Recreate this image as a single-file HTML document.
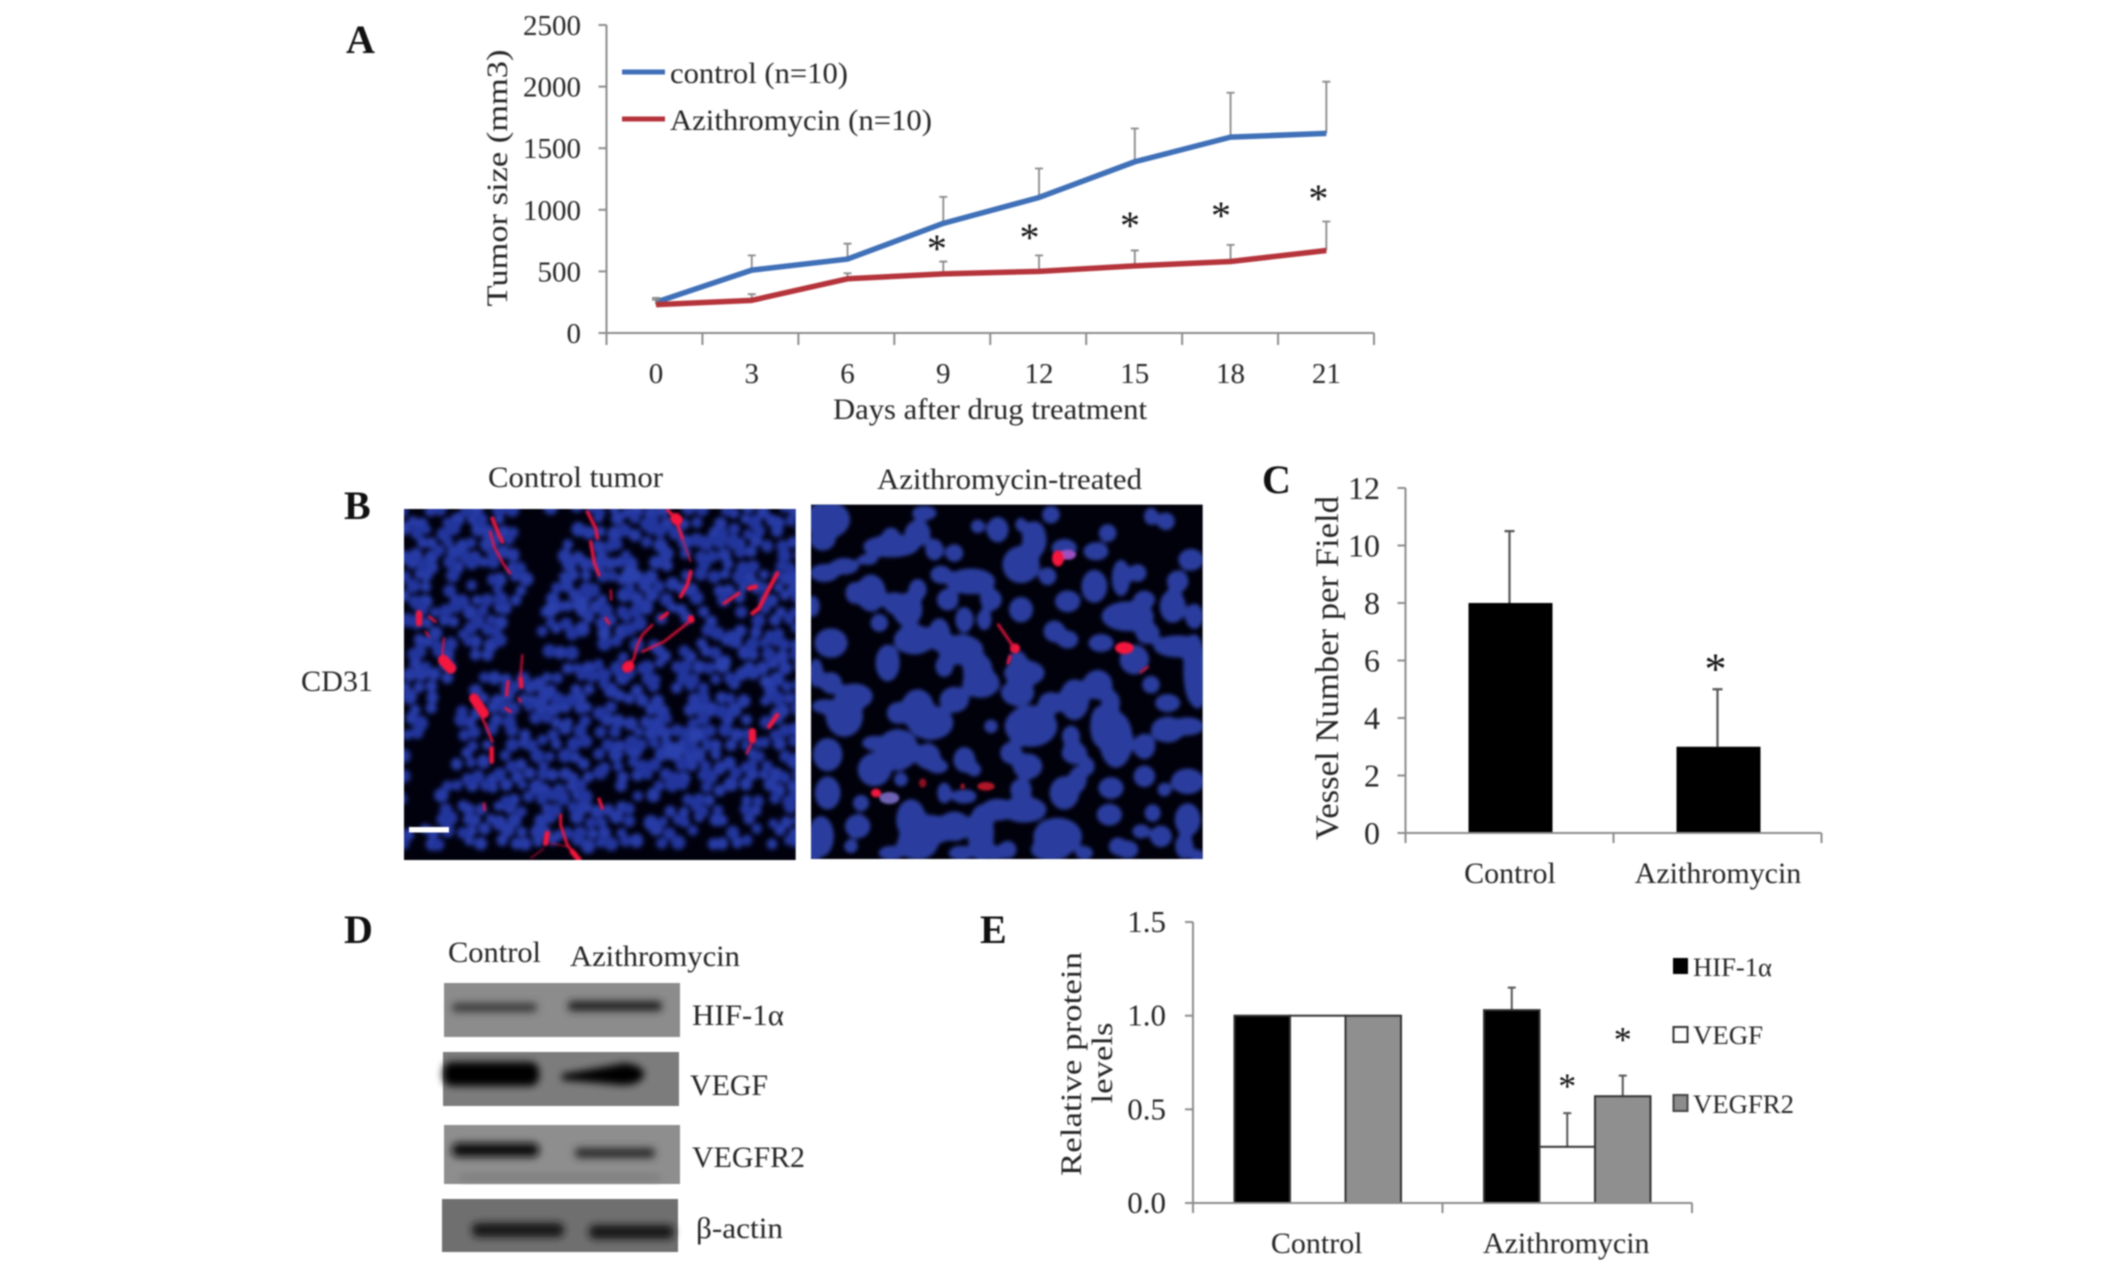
<!DOCTYPE html>
<html lang="en">
<head>
<meta charset="utf-8">
<title>Azithromycin tumor figure</title>
<style>
html,body{margin:0;padding:0;background:#fff;width:2126px;height:1277px;overflow:hidden}
svg{display:block;filter:blur(.7px)}
text{font-family:"Liberation Serif","Noto Serif CJK SC",serif;fill:#262626;font-size:30px}
.panel{font-weight:bold;font-size:40px;fill:#111}
</style>
</head>
<body>
<svg id="fig" xmlns="http://www.w3.org/2000/svg" width="2126" height="1277" viewBox="0 0 2126 1277">
<defs>
<filter id="b1" x="-5%" y="-5%" width="110%" height="110%"><feGaussianBlur stdDeviation="3.5"/></filter>
<filter id="bL" x="-5%" y="-5%" width="110%" height="110%"><feGaussianBlur stdDeviation="7"/></filter>
<filter id="b2" x="-5%" y="-5%" width="110%" height="110%"><feGaussianBlur stdDeviation="8"/><feComponentTransfer><feFuncA type="linear" slope="2.3" intercept="-0.5"/></feComponentTransfer><feGaussianBlur stdDeviation="5"/></filter>
<filter id="b3" x="-20%" y="-100%" width="140%" height="300%"><feGaussianBlur stdDeviation="4"/></filter>
<clipPath id="clipL"><rect x="0" y="12" width="1175" height="1053"/></clipPath>
<clipPath id="clipR"><rect x="0" y="5" width="1175" height="1063"/></clipPath>
</defs>

<g id="panelA">
<text class="panel" x="346" y="53">A</text>
<text transform="translate(507,178) rotate(-90)" text-anchor="middle" textLength="257" lengthAdjust="spacingAndGlyphs">Tumor size (mm3)</text>
<text x="990" y="419" text-anchor="middle" textLength="314" lengthAdjust="spacingAndGlyphs">Days after drug treatment</text>
<line x1="622" y1="72" x2="665" y2="72" stroke="#3f70b8" stroke-width="5"/>
<text x="670" y="83" textLength="178" lengthAdjust="spacingAndGlyphs">control (n=10)</text>
<line x1="622" y1="119" x2="665" y2="119" stroke="#b5343b" stroke-width="5"/>
<text x="670" y="130" textLength="262" lengthAdjust="spacingAndGlyphs">Azithromycin (n=10)</text>
</g>

<g id="panelB">
<text class="panel" x="344" y="519">B</text>
<text x="488" y="487" textLength="175" lengthAdjust="spacingAndGlyphs">Control tumor</text>
<text x="877" y="489" textLength="265" lengthAdjust="spacingAndGlyphs">Azithromycin-treated</text>
<text x="301" y="691" textLength="72" lengthAdjust="spacingAndGlyphs">CD31</text>
<g transform="translate(404,505) scale(.33333)" clip-path="url(#clipL)">
<rect x="0" y="0" width="1180" height="1080" fill="#01010e"/>
<g id="cellsL" filter="url(#bL)"></g>
<g id="vesselsL" filter="url(#b1)"></g>
</g>
<rect x="409" y="827" width="40" height="5.5" fill="#fff"/>
<g transform="translate(811,503) scale(.33333)" clip-path="url(#clipR)">
<rect x="0" y="0" width="1180" height="1080" fill="#01010c"/>
<g id="cellsR" filter="url(#b2)"></g>
<g id="vesselsR" filter="url(#b1)"></g>
</g>
</g>

<g id="panelC">
<text class="panel" x="1262" y="493">C</text>
<text transform="translate(1338,668) rotate(-90)" text-anchor="middle" font-size="33" style="font-size:33px" textLength="344" lengthAdjust="spacingAndGlyphs">Vessel Number per Field</text>
</g>

<g id="panelD">
<text class="panel" x="344" y="943">D</text>
<text x="448" y="962" textLength="93" lengthAdjust="spacingAndGlyphs">Control</text>
<text x="570" y="966" textLength="170" lengthAdjust="spacingAndGlyphs">Azithromycin</text>
<g>
<rect x="444" y="983" width="236" height="54" fill="#8c8c8c"/>
<rect x="452" y="1003" width="85" height="9" rx="4" fill="#3a3a3a" filter="url(#b3)"/>
<rect x="568" y="1001" width="94" height="10" rx="4" fill="#222" filter="url(#b3)"/>
</g>
<g>
<rect x="443" y="1052" width="236" height="54" fill="#7c7c7c"/>
<rect x="443" y="1062" width="96" height="24" rx="9" fill="#000" filter="url(#b3)"/>
<path d="M562 1074 Q600 1068 625 1063 Q645 1066 644 1075 Q640 1086 620 1085 Q590 1082 562 1080Z" fill="#060606" filter="url(#b3)"/>
</g>
<g>
<rect x="444" y="1125" width="236" height="59" fill="#8e8e8e"/>
<rect x="452" y="1143" width="87" height="14" rx="6" fill="#101010" filter="url(#b3)"/>
<rect x="575" y="1148" width="80" height="10" rx="4" fill="#2a2a2a" filter="url(#b3)"/>
<rect x="460" y="1175" width="200" height="5" fill="#777" filter="url(#b3)"/>
</g>
<g>
<rect x="442" y="1199" width="236" height="53" fill="#6f6f6f"/>
<rect x="472" y="1223" width="92" height="14" rx="6" fill="#141414" filter="url(#b3)"/>
<rect x="589" y="1225" width="85" height="14" rx="6" fill="#141414" filter="url(#b3)"/>
</g>
<text x="692" y="1025" textLength="92" lengthAdjust="spacingAndGlyphs">HIF-1α</text>
<text x="690" y="1095" textLength="78" lengthAdjust="spacingAndGlyphs">VEGF</text>
<text x="692" y="1167" textLength="113" lengthAdjust="spacingAndGlyphs">VEGFR2</text>
<text x="696" y="1238" textLength="87" lengthAdjust="spacingAndGlyphs">β-actin</text>
</g>

<g id="panelE">
<text class="panel" x="980" y="943">E</text>
<text transform="translate(1081,1064) rotate(-90)" text-anchor="middle" textLength="224" lengthAdjust="spacingAndGlyphs">Relative protein</text>
<text transform="translate(1112,1063) rotate(-90)" text-anchor="middle" textLength="81" lengthAdjust="spacingAndGlyphs">levels</text>
<rect x="1673" y="958" width="15" height="16" fill="#000"/>
<text x="1693" y="976" style="font-size:26px" textLength="79" lengthAdjust="spacingAndGlyphs">HIF-1α</text>
<rect x="1673.5" y="1027" width="14" height="15" fill="#fff" stroke="#333" stroke-width="2"/>
<text x="1693" y="1044" style="font-size:26px" textLength="70" lengthAdjust="spacingAndGlyphs">VEGF</text>
<rect x="1673.5" y="1095" width="14" height="16" fill="#8c8c8c" stroke="#444" stroke-width="2"/>
<text x="1693" y="1113" style="font-size:26px" textLength="101" lengthAdjust="spacingAndGlyphs">VEGFR2</text>
</g>

<script>
// Panel A data
const tumorDays = [0, 3, 6, 9, 12, 15, 18, 21];
const tumorTicks = [0, 500, 1000, 1500, 2000, 2500];
const controlMean = [250, 510, 600, 890, 1100, 1390, 1590, 1620];
const controlUpper = [285, 630, 725, 1105, 1335, 1660, 1950, 2040];
const azithroMean = [230, 265, 440, 480, 500, 545, 580, 670];
const azithroUpper = [270, 315, 485, 580, 630, 670, 715, 905];
const sigDays = [8.8, 11.7, 14.85, 17.7, 20.75];
const sigLevels = [730, 820, 917, 998, 1136];
// Panel C data
const vesselCategories = ['Control', 'Azithromycin'];
const vesselTicks = [0, 2, 4, 6, 8, 10, 12];
const vesselMean = [8, 3];
const vesselUpper = [10.5, 5];
const vesselSig = [null, 7];
// Panel E data
const proteinCategories = ['Control', 'Azithromycin'];
const proteinTicks = ['0.0', '0.5', '1.0', '1.5'];
const hifMean = [1, 1.03];
const hifUpper = [1, 1.15];
const vegfMean = [1, 0.3];
const vegfUpper = [1, 0.48];
const vegfr2Mean = [1, 0.57];
const vegfr2Upper = [1, 0.68];
const vegfSig = [null, 0.65];
const vegfr2Sig = [null, 0.9];

const NS = 'http://www.w3.org/2000/svg';
function mk(parent, tag, attrs, txt) {
  const e = document.createElementNS(NS, tag);
  for (const k in attrs) e.setAttribute(k, attrs[k]);
  if (txt !== undefined) e.textContent = txt;
  parent.appendChild(e);
  return e;
}
const AXIS = '#8c8c8c';
function star(parent, x, cy, size) {
  return mk(parent, 'text', {x: x, y: cy + 0.47 * size, 'text-anchor': 'middle', style: 'font-size:' + size + 'px;fill:#111'}, '*');
}

/* ---------- Panel A ---------- */
(function () {
  const g = document.getElementById('panelA');
  const ty = v => 333 - v * 308 / 2500;
  const dx = d => 656 + d * 31.92;
  const left = 606.5, right = 1374;
  const yAxis = mk(g, 'line', {x1: left, y1: ty(2500), x2: left, y2: 345, stroke: AXIS, 'stroke-width': 2});
  
  
  const xAxis = mk(g, 'line', {x1: left - 8, y1: ty(0), x2: right, y2: ty(0), stroke: AXIS, 'stroke-width': 2});
  
  
  tumorTicks.forEach(v => {
    mk(g, 'line', {x1: left - 8, y1: ty(v), x2: left, y2: ty(v), stroke: AXIS, 'stroke-width': 2});
    const t = mk(g, 'text', {x: 581, y: ty(v) + 10, 'text-anchor': 'end', style: 'font-size:29px'}, v);
    
    
  });
  const step = (right - left) / tumorDays.length;
  for (let i = 0; i <= tumorDays.length; i++) {
    mk(g, 'line', {x1: left + i * step, y1: ty(0), x2: left + i * step, y2: 345, stroke: AXIS, 'stroke-width': 2});
  }
  tumorDays.forEach(d => {
    const t = mk(g, 'text', {x: dx(d), y: 383, 'text-anchor': 'middle', style: 'font-size:29px'}, d);
    
    
  });
  function series(mean, upper, color, name) {
    upper.forEach((u, i) => {
      const x = dx(tumorDays[i]);
      const bar = mk(g, 'path', {d: 'M' + x + ' ' + ty(mean[i]) + 'V' + ty(u) + 'M' + (x - 4) + ' ' + ty(u) + 'H' + (x + 4), stroke: '#8a8a8a', 'stroke-width': 1.8, fill: 'none'});
      
      
    });
    const pts = mean.map((m, i) => dx(tumorDays[i]) + ',' + ty(m)).join(' ');
    const line = mk(g, 'polyline', {points: pts, fill: 'none', stroke: color, 'stroke-width': 5.5, 'stroke-linejoin': 'round'});
    
    
  }
  series(controlMean, controlUpper, '#3f70b8', 'control');
  series(azithroMean, azithroUpper, '#b5343b', 'azithromycin');
  sigDays.forEach((d, i) => {
    const s = star(g, dx(d), ty(sigLevels[i]), 40);
    
    
  });
})();

/* ---------- Panel C ---------- */
(function () {
  const g = document.getElementById('panelC');
  const vy = v => 833 - v * 28.75;
  const left = 1405.5, step = 208;
  const cx = i => left + (i + 0.5) * step;
  const w = 84;
  vesselMean.forEach((m, i) => {
    const err = mk(g, 'path', {d: 'M' + cx(i) + ' ' + vy(m) + 'V' + vy(vesselUpper[i]) + 'M' + (cx(i) - 5) + ' ' + vy(vesselUpper[i]) + 'H' + (cx(i) + 5), stroke: '#555', 'stroke-width': 2.2, fill: 'none'});
    
    
    const b = mk(g, 'rect', {x: cx(i) - w / 2 + 1, y: vy(m), width: w, height: vy(0) - vy(m), fill: '#000'});
    
    
    const t = mk(g, 'text', {x: cx(i) + .5, y: 883, 'text-anchor': 'middle'}, vesselCategories[i]);
    
    
    if (vesselSig[i] !== null) {
      const s = star(g, cx(i) - 2, vy(vesselSig[i]) + 31, 44);
      
      
    }
  });
  const yAxis = mk(g, 'line', {x1: left, y1: vy(12), x2: left, y2: 843, stroke: AXIS, 'stroke-width': 2});
  
  
  const xAxis = mk(g, 'line', {x1: left - 8, y1: vy(0), x2: left + 2 * step, y2: vy(0), stroke: AXIS, 'stroke-width': 2});
  
  
  for (let i = 1; i <= vesselCategories.length; i++) {
    mk(g, 'line', {x1: left + i * step, y1: vy(0), x2: left + i * step, y2: 843, stroke: AXIS, 'stroke-width': 2});
  }
  vesselTicks.forEach(v => {
    mk(g, 'line', {x1: left - 8, y1: vy(v), x2: left, y2: vy(v), stroke: AXIS, 'stroke-width': 2});
    const t = mk(g, 'text', {x: 1380, y: vy(v) + 11, 'text-anchor': 'end', style: 'font-size:32px'}, v);
    
    
  });
})();

/* ---------- Panel E ---------- */
(function () {
  const g = document.getElementById('panelE');
  const py = v => 1203 - v * 187.3;
  const left = 1193, step = 249.5, w = 55.5;
  const cx = i => left + (i + 0.5) * step;
  const groups = [
    {mean: hifMean, upper: hifUpper, fill: '#000', name: 'hif-1a', sig: null},
    {mean: vegfMean, upper: vegfUpper, fill: '#fff', name: 'vegf', sig: vegfSig},
    {mean: vegfr2Mean, upper: vegfr2Upper, fill: '#8f8f8f', name: 'vegfr2', sig: vegfr2Sig}
  ];
  proteinCategories.forEach((c, i) => {
    groups.forEach((s, k) => {
      const x = cx(i) + (k - 1) * w;
      if (s.upper[i] > s.mean[i]) {
        const err = mk(g, 'path', {d: 'M' + x + ' ' + py(s.mean[i]) + 'V' + py(s.upper[i]) + 'M' + (x - 4) + ' ' + py(s.upper[i]) + 'H' + (x + 4), stroke: '#555', 'stroke-width': 2, fill: 'none'});
        
        
      }
      const b = mk(g, 'rect', {x: x - w / 2, y: py(s.mean[i]), width: w, height: py(0) - py(s.mean[i]), fill: s.fill, stroke: '#333', 'stroke-width': 2});
      
      
      if (s.sig && s.sig[i] !== null) {
        const st = star(g, x, py(s.sig[i]), 36);
        
        
      }
    });
    const t = mk(g, 'text', {x: cx(i) - 1, y: 1253, 'text-anchor': 'middle'}, c);
    
    
  });
  const yAxis = mk(g, 'line', {x1: left, y1: py(1.5), x2: left, y2: 1213, stroke: AXIS, 'stroke-width': 2});
  
  
  const xAxis = mk(g, 'line', {x1: left - 8, y1: py(0), x2: 1692, y2: py(0), stroke: AXIS, 'stroke-width': 2});
  
  
  for (let i = 1; i <= proteinCategories.length; i++) {
    mk(g, 'line', {x1: left + i * step, y1: py(0), x2: left + i * step, y2: 1213, stroke: AXIS, 'stroke-width': 2});
  }
  proteinTicks.forEach(v => {
    mk(g, 'line', {x1: left - 8, y1: py(+v), x2: left, y2: py(+v), stroke: AXIS, 'stroke-width': 2});
    const t = mk(g, 'text', {x: 1166, y: py(+v) + 10, 'text-anchor': 'end', style: 'font-size:31px'}, v);
    
    
  });
})();

/* ---------- Panel B: decorative microscopy texture (not chart data) ---------- */
(function () {
  function hash(i, j, k) {
    let h = Math.imul(i + 11, 73856093) ^ Math.imul(j + 7, 19349663) ^ Math.imul(k + 3, 83492791);
    h = Math.imul(h ^ (h >>> 13), 1274126177);
    return ((h ^ (h >>> 16)) >>> 0) % 1000 / 1000;
  }
  function inside(poly, x, y) {
    let c = false;
    for (let i = 0, j = poly.length - 1; i < poly.length; j = i++) {
      const a = poly[i], b = poly[j];
      if ((a[1] > y) !== (b[1] > y) && x < (b[0] - a[0]) * (y - a[1]) / (b[1] - a[1]) + a[0]) c = !c;
    }
    return c;
  }
  const black = [[[345,10],[540,10],[470,130],[480,220],[410,290],[400,400],[440,460],[400,540],[300,480],[225,490],[190,570],[150,630],[170,710],[110,820],[100,900],[120,960],[0,960],[0,770],[45,750],[55,650],[130,570],[140,520],[180,470],[320,450],[330,300],[370,230],[340,100]]];
  const sparse = [
    [[440,390],[600,420],[690,430],[680,480],[540,460]],
    [[740,300],[860,250],[870,340],[720,430]],
    [[900,240],[950,260],[950,330],[900,340]],
    [[590,230],[650,240],[640,330],[590,300]],
    [[1000,520],[1070,530],[1060,590],[990,570]]
  ];
  function circle(x, y, r) {
    return 'M' + (x - r).toFixed(1) + ' ' + y.toFixed(1) + 'a' + r.toFixed(1) + ' ' + r.toFixed(1) + ' 0 1 0 ' + (2 * r).toFixed(1) + ' 0a' + r.toFixed(1) + ' ' + r.toFixed(1) + ' 0 1 0 ' + (-2 * r).toFixed(1) + ' 0Z';
  }
  let d1 = '', d2 = '';
  const sp = 37;
  for (let j = 0; j < 31; j++) {
    for (let i = 0; i < 34; i++) {
      const x = i * sp + (j % 2) * sp / 2 + (hash(i, j, 1) - .5) * 22;
      const y = 14 + j * sp * .9 + (hash(i, j, 2) - .5) * 22;
      if (black.some(p => inside(p, x, y))) continue;
      const sparseHit = sparse.some(p => inside(p, x, y));
      const keep = hash(i, j, 3);
      if (keep < (sparseHit ? .82 : .2)) continue;
      const r = 15 + hash(i, j, 4) * 7;
      if (hash(i, j, 5) > .45) d1 += circle(x, y, r); else d2 += circle(x, y, r);
    }
  }
  const cl = document.getElementById('cellsL');
  mk(cl, 'path', {d: d1, fill: '#283ba6'});
  mk(cl, 'path', {d: d2, fill: '#22349c'});
  mk(cl, 'path', {d: circle(530,300,24) + circle(440,315,22) + circle(600,385,20) + circle(680,210,28) + circle(810,740,28) + circle(875,690,22) + circle(955,480,24) + circle(1085,530,18), fill: '#2a40ac'});

  const blobs = [[50,50,55,45],[35,110,30,25],[240,130,70,25],[320,90,30,30],[340,30,30,15],[240,100,20,20],[170,170,25,10],[100,190,35,18],[40,210,35,20],[180,270,35,45],[250,300,25,25],[290,320,35,40],[130,270,20,25],[320,260,20,25],[5,310,15,25],[205,360,20,20],[390,215,25,20],[480,235,60,30],[410,290,25,25],[540,290,25,25],[520,350,15,25],[460,350,20,30],[630,185,45,45],[560,80,25,30],[670,110,28,45],[500,70,15,15],[370,140,20,25],[430,150,20,20],[720,35,20,20],[630,65,12,15],[710,220,20,20],[630,320,28,30],[770,295,30,25],[850,250,30,40],[855,145,30,20],[890,90,20,20],[760,135,30,20],[980,210,20,20],[930,225,20,45],[1000,290,25,20],[1065,55,20,20],[1020,40,15,20],[1140,170,30,25],[1100,235,25,25],[1085,310,30,40],[1150,340,20,30],[950,340,65,35],[1010,390,28,25],[730,385,25,25],[770,410,25,20],[870,420,30,20],[970,470,35,35],[1100,430,60,25],[1150,500,25,90],[1020,545,20,20],[1070,600,30,20],[1160,580,15,30],[310,410,50,35],[385,395,25,40],[450,440,55,35],[500,500,35,40],[510,540,45,35],[400,490,20,25],[230,480,28,45],[60,420,40,35],[60,540,25,25],[15,510,15,35],[130,580,45,30],[100,640,45,50],[40,610,30,15],[320,620,40,50],[360,660,55,40],[260,630,25,25],[430,590,35,30],[620,470,20,20],[640,510,50,30],[620,570,40,30],[540,670,15,15],[660,670,65,50],[720,600,30,25],[790,590,35,50],[860,545,35,35],[900,600,20,30],[915,710,40,70],[865,670,20,50],[1070,680,40,30],[1130,670,40,20],[1000,730,25,30],[780,700,20,25],[790,750,30,25],[650,790,35,30],[600,750,25,25],[50,755,35,40],[190,720,30,15],[260,740,50,50],[190,800,40,40],[350,760,30,30],[380,790,25,15],[460,770,25,30],[490,800,15,15],[270,830,15,15],[50,870,30,40],[150,900,18,18],[140,970,30,28],[30,1000,30,50],[300,950,35,50],[350,980,70,35],[430,970,40,35],[510,990,30,70],[560,920,40,25],[640,920,55,30],[630,860,25,25],[460,880,30,15],[400,870,15,25],[760,870,35,40],[800,830,20,30],[900,855,30,25],[1130,835,40,30],[1060,860,15,15],[895,935,30,25],[1130,950,30,40],[1025,930,18,20],[990,985,20,15],[1050,1000,25,25],[920,1030,20,20],[1120,1030,20,30],[740,1000,60,45],[720,1040,50,25],[590,1040,20,20],[820,1050,20,15],[320,1020,50,40],[240,1050,30,15],[120,1030,15,15],[10,1040,15,30],[1000,820,25,25],[830,790,15,20],[550,1050,30,15],[450,1050,30,15],[950,1040,25,20],[1160,1060,15,15]];
  let dR = '';
  blobs.forEach(b => {
    const rx = b[2] * 1.15 + 3, ry = b[3] * 1.15 + 3;
    dR += 'M' + (b[0] - rx) + ' ' + b[1] + 'a' + rx + ' ' + ry + ' 0 1 0 ' + (2 * rx) + ' 0a' + rx + ' ' + ry + ' 0 1 0 ' + (-2 * rx) + ' 0Z';
  });
  mk(document.getElementById('cellsR'), 'path', {d: dR, fill: '#293c9e'});

  const red = '#f5143c';
  const vesselLines = [
    [[[265,40],[285,90],[295,110]],8],[[[258,80],[270,125],[300,180],[318,205]],5],
    [[[550,20],[575,70],[580,100]],7],[[[560,110],[570,170],[585,210]],7],[[[620,255],[622,285]],4],[[[605,340],[615,355]],6],
    [[[790,15],[815,40],[835,100]],7],[[[835,100],[860,170]],3],[[[860,200],[850,240],[830,275]],8],
    [[[1120,205],[1090,260],[1065,310],[1045,325]],9],[[[960,295],[1005,265]],7],[[[1035,250],[1055,245]],10],
    [[[770,340],[790,325]],8],[[[745,360],[715,390],[700,420],[690,460],[670,490]],5],
    [[[865,335],[850,355],[780,410],[715,440]],5],
    [[[45,325],[45,355]],14],[[[75,335],[95,350]],5],[[[65,380],[75,395]],4],
    [[[120,400],[115,450]],4],[[[118,465],[140,490]],24],
    [[[355,450],[350,510]],4],[[[350,520],[352,545]],10],[[[312,530],[308,570]],7],[[[345,580],[350,590]],5],[[[305,610],[320,620]],6],
    [[[210,580],[240,625]],22],[[[235,640],[245,660],[265,710]],5],[[[263,730],[263,770]],10],
    [[[1120,630],[1095,665]],10],[[[1045,680],[1045,705]],16],[[[1040,720],[1028,745]],5],
    [[[585,882],[595,910]],7],[[[240,895],[242,915]],5],
    [[[470,930],[470,960],[490,1020],[525,1065]],6],[[[505,1040],[525,1065]],12],[[[430,985],[425,1015]],12],[[[420,1030],[380,1060]],2],[[[440,1015],[490,1025]],2],
    [[[815,40],[820,45]],24],[[[860,340],[862,345]],14],[[[670,487],[675,483]],24]
  ];
  const vL = document.getElementById('vesselsL');
  vesselLines.forEach(v => {
    mk(vL, 'polyline', {points: v[0].map(p => p.join(',')).join(' '), fill: 'none', stroke: red, 'stroke-width': v[1] * 1.35, 'stroke-linecap': 'round', 'stroke-linejoin': 'round'});
  });
  const vR = document.getElementById('vesselsR');
  mk(vR, 'ellipse', {cx: 770, cy: 155, rx: 25, ry: 15, fill: '#9d4fc0'});
  mk(vR, 'ellipse', {cx: 741, cy: 166, rx: 18, ry: 24, fill: red});
  mk(vR, 'ellipse', {cx: 612, cy: 436, rx: 15, ry: 15, fill: red});
  mk(vR, 'line', {x1: 562, y1: 365, x2: 610, y2: 435, stroke: '#e0143c', 'stroke-width': 8, 'stroke-linecap': 'round'});
  mk(vR, 'line', {x1: 597, y1: 460, x2: 591, y2: 480, stroke: red, 'stroke-width': 9, 'stroke-linecap': 'round'});
  mk(vR, 'ellipse', {cx: 940, cy: 435, rx: 28, ry: 18, fill: red});
  mk(vR, 'line', {x1: 988, y1: 508, x2: 1010, y2: 492, stroke: '#d01838', 'stroke-width': 7, 'stroke-linecap': 'round'});
  mk(vR, 'ellipse', {cx: 235, cy: 885, rx: 30, ry: 18, fill: '#6f62b4'});
  mk(vR, 'ellipse', {cx: 195, cy: 870, rx: 15, ry: 13, fill: red});
  mk(vR, 'ellipse', {cx: 335, cy: 840, rx: 11, ry: 14, fill: '#8c1024'});
  mk(vR, 'ellipse', {cx: 525, cy: 850, rx: 26, ry: 13, fill: '#b01226'});
  mk(vR, 'ellipse', {cx: 455, cy: 850, rx: 7, ry: 9, fill: '#a01226'});
})();
</script>
</svg>
</body>
</html>
